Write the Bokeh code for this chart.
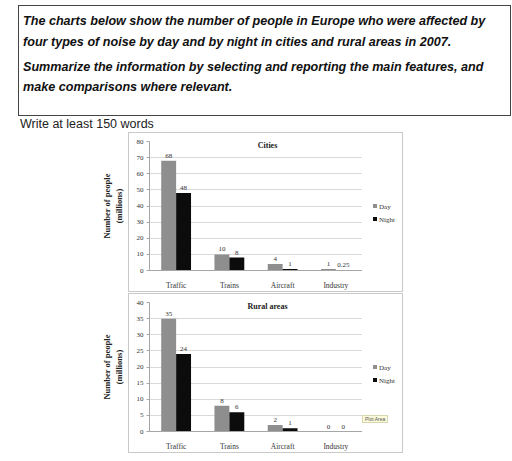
from bokeh.plotting import figure
from bokeh.models import (ColumnDataSource, FactorRange, FixedTicker, LabelSet, Label,
                          Div, InlineStyleSheet)
from bokeh.layouts import column, row
from bokeh.transform import dodge
from bokeh.embed import file_html
from bokeh.resources import INLINE

# ---------------- data ----------------
header_par1 = ["The charts below show the number of people in Europe who were affected by",
               "four types of noise by day and by night in cities and rural areas in 2007."]
header_par2 = ["Summarize the information by selecting and reporting the main features, and",
               "make comparisons where relevant."]
instruction = "Write at least 150 words"
note_text = "Plot Area"

categories = ["Traffic", "Trains", "Aircraft", "Industry"]
series_names = ["Day", "Night"]
cities_day = [68, 10, 4, 1]
cities_night = [48, 8, 1, 0.25]
rural_day = [35, 8, 2, 0]
rural_night = [24, 6, 1, 0]
cities_ticks = [0, 10, 20, 30, 40, 50, 60, 70, 80]
rural_ticks = [0, 5, 10, 15, 20, 25, 30, 35, 40]
y_label = "Number of people\n(millions)"

DAY_COLOR = "#8e8e8e"
NIGHT_COLOR = "#0c0c0c"
SERIF = "Liberation Serif"
BOX = "#c9c9c9"


def fmt(v):
    return f"{v:g}"


def box_sheet(top, height):
    # left part of the light chart-area border (the rest is drawn by the legend block)
    return InlineStyleSheet(css=(
        ":host::after { content: ''; position: absolute; left: 30px; top: %dpx; "
        "width: 234px; height: %dpx; box-sizing: border-box; border: 1px solid %s; "
        "border-right: none; pointer-events: none; }" % (top, height, BOX)))


def make_chart(title, day, night, ticks, height, top_border, box_top):
    src = ColumnDataSource(dict(cat=categories, day=day, night=night,
                                day_lbl=[fmt(v) for v in day],
                                night_lbl=[fmt(v) for v in night]))
    p = figure(x_range=FactorRange(*categories, range_padding=0),
               y_range=(ticks[0], ticks[-1]),
               width=264, height=height, output_backend="svg", toolbar_location=None,
               min_border_left=48, min_border_right=0, min_border_top=top_border,
               min_border_bottom=height - top_border - 135,
               margin=(0, 0, 0, 98), outline_line_color=None,
               stylesheets=[box_sheet(box_top, height - box_top)])
    p.vbar(x=dodge("cat", -0.14, range=p.x_range), top="day", width=0.28,
           source=src, fill_color=DAY_COLOR, line_color=None)
    p.vbar(x=dodge("cat", 0.14, range=p.x_range), top="night", width=0.28,
           source=src, fill_color=NIGHT_COLOR, line_color=None)
    for col, off in (("day_lbl", -0.14), ("night_lbl", 0.14)):
        p.add_layout(LabelSet(x=dodge("cat", off, range=p.x_range),
                              y=col.split("_")[0], text=col, source=src,
                              y_offset=3, text_align="center", text_baseline="bottom",
                              text_font=SERIF, text_font_size="7px", text_color="#333333"))
    # axes
    p.yaxis.ticker = FixedTicker(ticks=ticks)
    p.yaxis.major_tick_out = 3
    p.yaxis.major_tick_in = 0
    p.yaxis.minor_tick_line_color = None
    p.yaxis.axis_line_color = "#a6a6a6"
    p.yaxis.major_tick_line_color = "#a6a6a6"
    p.yaxis.major_label_text_font = SERIF
    p.yaxis.major_label_text_font_size = "7px"
    p.yaxis.major_label_text_color = "#333333"
    p.yaxis.major_label_standoff = 3
    p.yaxis.axis_label = y_label
    p.yaxis.axis_label_text_font = SERIF
    p.yaxis.axis_label_text_font_size = "8.5px"
    p.yaxis.axis_label_text_font_style = "bold"
    p.yaxis.axis_label_text_color = "#222222"
    p.yaxis.axis_label_standoff = 10
    p.xaxis.axis_line_color = "#a6a6a6"
    p.xaxis.major_tick_line_color = None
    p.xaxis.major_label_text_font = SERIF
    p.xaxis.major_label_text_font_size = "7.5px"
    p.xaxis.major_label_text_color = "#333333"
    p.xaxis.major_label_standoff = 4
    p.xgrid.grid_line_color = None
    p.ygrid.grid_line_color = "#d9d9d9"
    p.ygrid.ticker = FixedTicker(ticks=ticks)
    # chart title inside the plot area
    p.add_layout(Label(x=118, y=125, x_units="screen", y_units="screen", text=title,
                       text_align="center", text_baseline="middle", text_font=SERIF,
                       text_font_size="8px", text_font_style="bold", text_color="#222222"))
    return p


def legend_block(height, box_top, legend_top, note=None):
    def item(name, color):
        return ('<div style="white-space:nowrap"><span style="display:inline-block;width:4px;'
                'height:4px;background:%s;margin-right:2px;vertical-align:middle;'
                'position:relative;top:-1px"></span>%s</div>' % (color, name))
    html = ('<div style="position:relative;width:41px;height:%dpx;margin-top:%dpx;'
            'box-sizing:border-box;border:1px solid %s;border-left:none;">'
            % (height - box_top, box_top, BOX))
    html += ('<div style="position:absolute;left:11px;top:%dpx;font-family:\'%s\',serif;'
             'font-size:7px;line-height:13px;color:#333">' % (legend_top - box_top, SERIF))
    html += item(series_names[0], DAY_COLOR) + item(series_names[1], NIGHT_COLOR) + '</div>'
    if note:
        html += ('<div style="position:absolute;left:0;top:%dpx;font-family:\'Liberation Sans\','
                 'Arial,sans-serif;font-size:5px;line-height:6px;color:#555;background:#fbfbdc;'
                 'border:1px solid #d8d8b0;padding:0 2px;white-space:nowrap">%s</div>'
                 % (122 - box_top, note))
    html += '</div>'
    return Div(text=html, width=48, height=height, margin=0)


header_html = (
    '<div style="box-sizing:border-box;width:493px;height:111px;border:1px solid #444;'
    'padding:5px 0 0 4px;font-family:\'Liberation Sans\',Arial,sans-serif;font-weight:bold;'
    'font-style:italic;font-size:12.6px;color:#111;">'
    '<div style="line-height:21px">' + "<br>".join(header_par1) + '</div>'
    '<div style="line-height:20px;margin-top:4px">' + "<br>".join(header_par2) + '</div>'
    '</div>')
header = Div(text=header_html, width=493, height=111, margin=(5, 0, 0, 18))
write = Div(text='<div style="font-family:\'Liberation Sans\',Arial,sans-serif;font-size:12.5px;'
                 'line-height:16px;color:#222;white-space:nowrap">' + instruction + '</div>',
            width=300, height=16, margin=(0, 0, 0, 20))

p1 = make_chart("Cities", cities_day, cities_night, cities_ticks, 160, 9, 0)
p2 = make_chart("Rural areas", rural_day, rural_night, rural_ticks, 161, 10, 1)
l1 = legend_block(160, 0, 68)
l2 = legend_block(161, 1, 69, note=note_text)

layout = column(header, write, row(p1, l1, spacing=0), row(p2, l2, spacing=0), spacing=0)
open("out.html", "w").write(file_html(layout, INLINE))
